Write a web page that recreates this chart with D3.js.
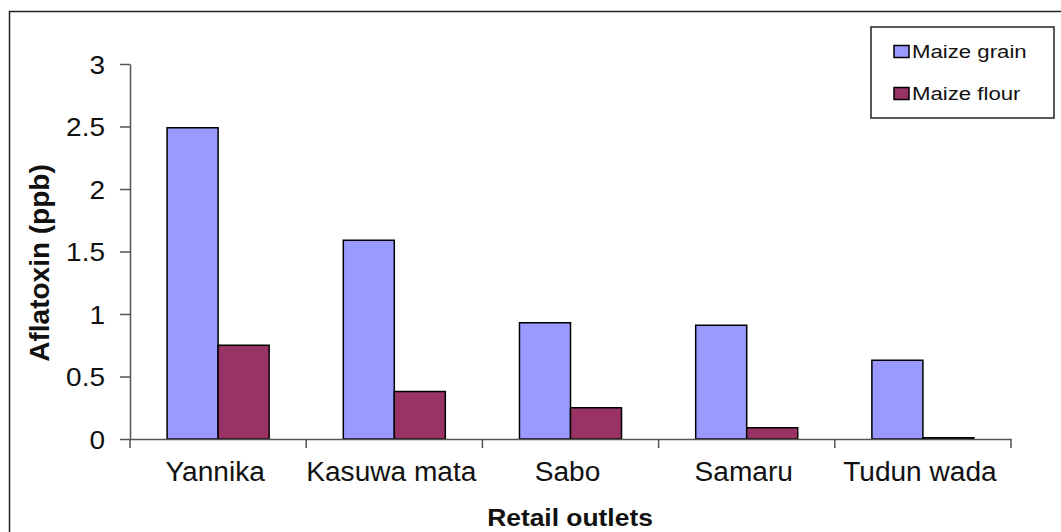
<!DOCTYPE html>
<html><head><meta charset="utf-8">
<script src="https://cdn.jsdelivr.net/npm/d3@7"></script>
<style>body{margin:0;background:#fff}svg{display:block;font-family:Arial,"Liberation Sans",sans-serif}</style>
</head><body>
<svg id="c" width="1061" height="532"></svg>
<script>
const categories = ["Yannika", "Kasuwa mata", "Sabo", "Samaru", "Tudun wada"];
const series = ["Maize grain", "Maize flour"];
const maizeGrain = [2.49, 1.59, 0.93, 0.91, 0.63];
const maizeFlour = [0.75, 0.38, 0.25, 0.09, 0.01];
const yTicks = [0, 0.5, 1, 1.5, 2, 2.5, 3];
const colors = ["#9999FF", "#993366"];
const yTitle = "Aflatoxin (ppb)";
const xTitle = "Retail outlets";

const svg = d3.select("#c");
// outer frame
svg.append("path").attr("d","M9.5,540 V11.5 H1070").attr("fill","none").attr("stroke","#222").attr("stroke-width",1.5);

const x0 = d3.scaleBand().domain(categories).range([130, 1011]).padding(0);
const x1 = d3.scaleBand().domain(series).range([0, x0.bandwidth()]).paddingInner(0).paddingOuter(0.727);
const y = d3.scaleLinear().domain([0, 3]).range([439, 64]);

const data = categories.map((c, i) => ({cat: c, vals: [maizeGrain[i], maizeFlour[i]]}));

// y axis
const yAxis = svg.append("g").attr("transform","translate(130,0)")
  .call(d3.axisLeft(y).tickValues(yTicks).tickFormat(d3.format("")).tickSize(10).tickSizeOuter(0).tickPadding(0));
yAxis.select(".domain").attr("stroke","#555").attr("stroke-width",1.5);
yAxis.selectAll(".tick line").attr("stroke","#555").attr("stroke-width",1.5);
yAxis.selectAll(".tick text").remove();
yAxis.selectAll(".tick").append("text")
  .attr("transform","translate(-25,0) scale(1.12,1)")
  .attr("dy","0.36em").attr("text-anchor","end")
  .attr("fill","#111").style("font-size","25px").text(d => d3.format("")(d));

// bars
const groups = svg.append("g").selectAll("g").data(data).join("g")
  .attr("transform", d => `translate(${x0(d.cat)},0)`);
groups.selectAll("rect").data(d => d.vals.map((v, j) => ({s: series[j], v, j}))).join("rect")
  .attr("x", d => x1(d.s)).attr("width", x1.bandwidth())
  .attr("y", d => y(d.v)).attr("height", d => y(0) - y(d.v))
  .attr("fill", d => colors[d.j]).attr("stroke", "#000").attr("stroke-width", 1.5);

// x axis
const xAxis = svg.append("g").attr("transform","translate(0,439)")
  .call(d3.axisBottom(x0).tickSize(0).tickSizeOuter(0).tickPadding(0));
xAxis.select(".domain").attr("stroke","#555").attr("stroke-width",1.5);
xAxis.selectAll(".tick text").remove();
xAxis.selectAll(".tick").append("text")
  .attr("transform","translate(-3,42) scale(1.04,1)")
  .attr("text-anchor","middle").attr("fill","#111").style("font-size","27px")
  .text(d => d);
// boundary tick marks
const bounds = categories.map(c => x0(c)).concat([x0(categories[categories.length-1]) + x0.bandwidth()]);
svg.append("g").selectAll("line").data(bounds).join("line")
  .attr("x1", d => d).attr("x2", d => d).attr("y1", 439).attr("y2", 448)
  .attr("stroke","#555").attr("stroke-width",1.5);

// axis titles
svg.append("text").attr("transform","translate(49,263) rotate(-90)")
  .attr("text-anchor","middle").attr("font-weight","bold").attr("fill","#111")
  .style("font-size","28px").text(yTitle);
svg.append("text").attr("transform","translate(570,526) scale(1.1,1)")
  .attr("text-anchor","middle").attr("font-weight","bold").attr("fill","#111")
  .style("font-size","24px").text(xTitle);

// legend
const lg = svg.append("g");
lg.append("rect").attr("x",871).attr("y",27).attr("width",183).attr("height",91)
  .attr("fill","#fff").attr("stroke","#222").attr("stroke-width",1.5);
const ly = d3.scalePoint().domain(series).range([57.5, 99.5]);
series.forEach((s, j) => {
  lg.append("rect").attr("x",894).attr("y",ly(s)-12).attr("width",15).attr("height",12)
    .attr("fill",colors[j]).attr("stroke","#000").attr("stroke-width",1.5);
  lg.append("text").attr("transform",`translate(912,${ly(s)}) scale(1.2,1)`)
    .attr("fill","#111").style("font-size","18.5px").text(s);
});
</script>
</body></html>
